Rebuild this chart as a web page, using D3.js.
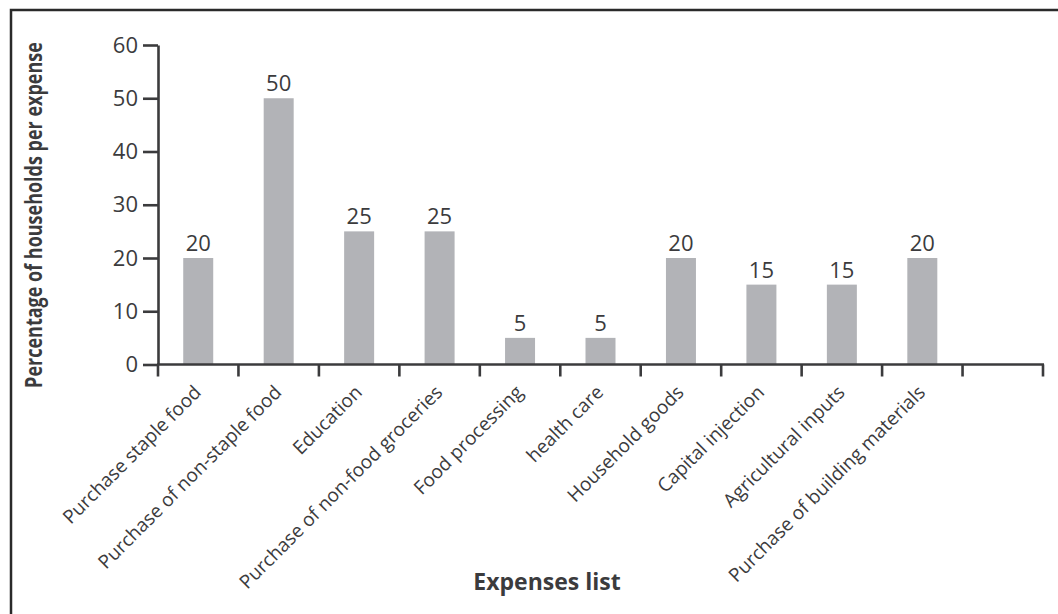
<!DOCTYPE html>
<html>
<head>
<meta charset="utf-8">
<script src="https://cdn.jsdelivr.net/npm/d3@7"></script>
<style>
  html, body { margin: 0; padding: 0; background: #fff; }
  svg { display: block; }
  text { font-family: "Open Sans", "Noto Sans", sans-serif; fill: #3b3b3d; }
</style>
</head>
<body>
<svg id="chart" width="1058" height="614"></svg>
<script>
// Expense categories and the share of households reporting each one (%)
const categories = [
  "Purchase staple food",
  "Purchase of non-staple food",
  "Education",
  "Purchase of non-food groceries",
  "Food processing",
  "health care",
  "Household goods",
  "Capital injection",
  "Agricultural inputs",
  "Purchase of building materials"
];
const percentages = [20, 50, 25, 25, 5, 5, 20, 15, 15, 20];
const yTicks = [0, 10, 20, 30, 40, 50, 60];
const yTitle = "Percentage of households per expense";
const xTitle = "Expenses list";

const svg = d3.select("#chart");
const W = 1058, H = 614;
const ink = "#3b3b3d";

// Frame around the figure (top and left edges visible)
svg.append("path")
  .attr("d", `M11,${H} L11,10 L${W},10`)
  .attr("fill", "none").attr("stroke", "#2a2a2a").attr("stroke-width", 2.5);

const plot = { left: 158, right: 1043, top: 45, bottom: 364.5 };
// One spare slot after the last category keeps the axis running on
const slots = d3.range(categories.length + 1);
const x = d3.scaleBand().domain(slots).range([plot.left, plot.right]).paddingInner(0).paddingOuter(0);
const y = d3.scaleLinear().domain([0, 60]).range([plot.bottom, plot.top]);
const barW = 30;

// Bars
svg.append("g").selectAll("rect").data(percentages).join("rect")
  .attr("x", (d, i) => x(i) + (x.bandwidth() - barW) / 2)
  .attr("y", d => y(d))
  .attr("width", barW)
  .attr("height", d => y(0) - y(d))
  .attr("fill", "#b2b3b7");

// Value labels
svg.append("g").selectAll("text").data(percentages).join("text")
  .attr("x", (d, i) => x(i) + x.bandwidth() / 2)
  .attr("y", d => y(d) - 7)
  .attr("text-anchor", "middle")
  .style("font-size", "22px")
  .text(d => d);

// Y axis
const yAxis = svg.append("g").attr("transform", `translate(${plot.left},0)`)
  .call(d3.axisLeft(y).tickValues(yTicks).tickSize(15).tickPadding(5).tickSizeOuter(0));
yAxis.select(".domain").attr("stroke", ink).attr("stroke-width", 2.6);
yAxis.selectAll(".tick line").attr("stroke", ink).attr("stroke-width", 2.6);
yAxis.selectAll(".tick text").style("font-size", "22px").attr("fill", ink).style("font-family", null);

// X axis: baseline with ticks at the slot boundaries
const xg = svg.append("g");
xg.append("line")
  .attr("x1", plot.left - 1).attr("x2", plot.right + 1)
  .attr("y1", y(0)).attr("y2", y(0))
  .attr("stroke", ink).attr("stroke-width", 2.6);
const edges = slots.map(i => x(i)).concat([x.range()[1]]);
xg.selectAll("line.tk").data(edges).join("line").attr("class", "tk")
  .attr("x1", d => d).attr("x2", d => d)
  .attr("y1", y(0)).attr("y2", y(0) + 12)
  .attr("stroke", ink).attr("stroke-width", 2.6);

// Rotated category labels
xg.selectAll("text").data(categories).join("text")
  .attr("transform", (d, i) => `translate(${x(i) + x.bandwidth() / 2 + 4},${y(0) + 29}) rotate(-45)`)
  .attr("text-anchor", "end")
  .style("font-size", "19px")
  .text(d => d);

// Axis titles (bold, slightly condensed along the reading direction)
svg.append("text")
  .attr("transform", `translate(42,${(45 + 385) / 2}) rotate(-90) scale(0.8,1)`)
  .attr("text-anchor", "middle")
  .style("font-size", "22.5px").style("font-weight", "bold")
  .text(yTitle);

svg.append("text")
  .attr("x", 547).attr("y", 590)
  .attr("text-anchor", "middle")
  .style("font-size", "23px").style("font-weight", "bold")
  .text(xTitle);
</script>
</body>
</html>
